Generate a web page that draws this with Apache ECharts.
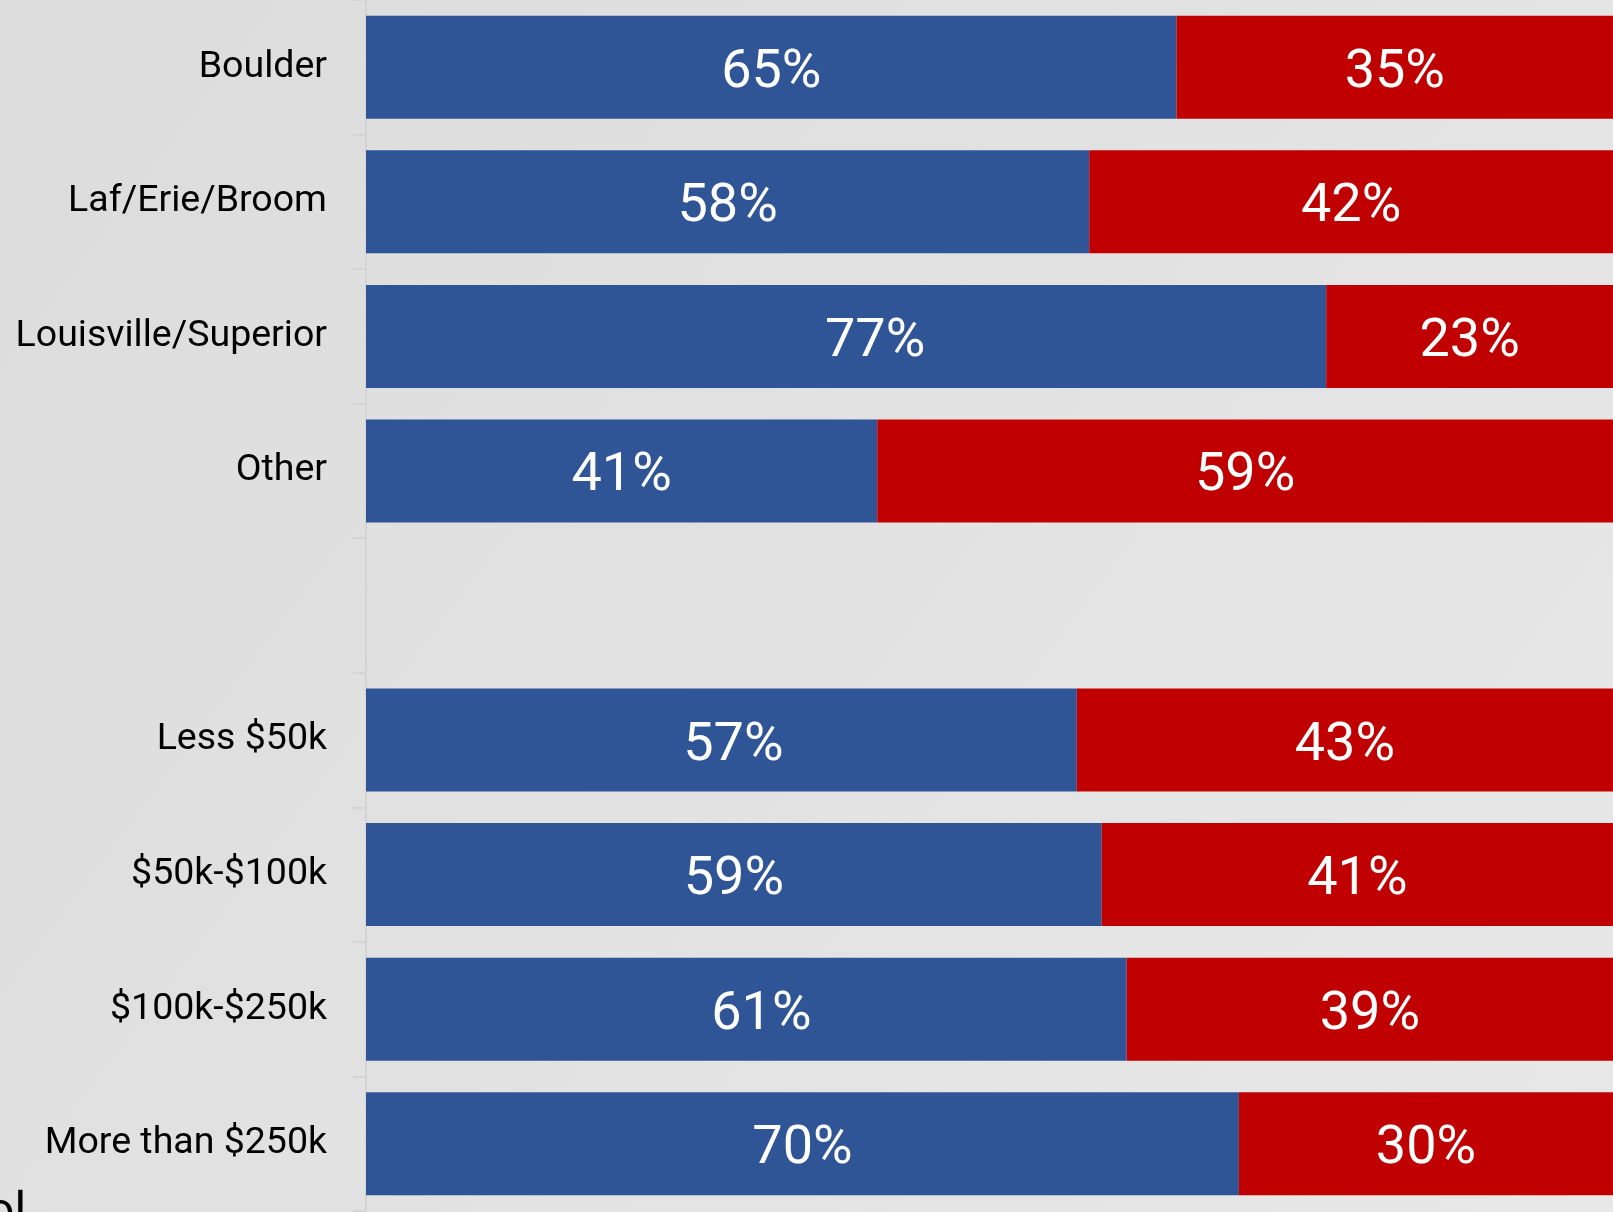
<!DOCTYPE html>
<html>
<head>
<meta charset="utf-8">
<script src="https://cdn.jsdelivr.net/npm/echarts@6/dist/echarts.min.js"></script>
<style>
	html, body { margin: 0; padding: 0; background: #e3e3e3; }
	#chart { width: 1613px; height: 1212px; }
</style>
</head>
<body>
<div id="chart"></div>
<script>
// categories top to bottom; the empty one is the gap between the two groups
const categories = ["Boulder", "Laf/Erie/Broom", "Louisville/Superior", "Other", "",
	"Less $50k", "$50k-$100k", "$100k-$250k", "More than $250k"];
const blueValues = [65, 58, 77, 41, null, 57, 59, 61, 70];
const redValues = [35, 42, 23, 59, null, 43, 41, 39, 30];

const BLUE = "#2f5597";
const RED = "#c00000";

// the original nudges a few blue labels to the right of the bar centre
const blueLabelNudge = [0, 0, 29, 0, 0, 12, 0, 15, 0];

const chart = echarts.init(document.getElementById("chart"), null, { renderer: "canvas" });

const barLabel = (nudge) => ({
	show: true,
	position: "inside",
	color: "#ffffff",
	fontFamily: "Roboto",
	fontSize: 54,
	offset: [nudge, 6],
	formatter: p => p.value == null ? "" : p.value + "%",
});

const withLabels = (values, nudges) => values.map((v, i) => ({
	value: v,
	label: barLabel(nudges ? nudges[i] : 0),
}));

chart.setOption({
	backgroundColor: new echarts.graphic.LinearGradient(0, 0, 1, 1, [
		{ offset: 0, color: "#dcdcdc" },
		{ offset: 1, color: "#e8e8e8" },
	]),
	animation: false,
	grid: { left: 366, right: 0, top: -2, bottom: 1, containLabel: false },
	xAxis: {
		type: "value",
		min: 0,
		max: 100,
		show: false,
	},
	yAxis: {
		type: "category",
		inverse: true,
		data: categories,
		axisLine: { show: true, lineStyle: { color: "#d4d4d4", width: 2 } },
		axisTick: { show: true, length: 13, lineStyle: { color: "#d4d4d4", width: 2 } },
		axisLabel: {
			color: "#000000",
			fontFamily: "Roboto",
			fontSize: 37.5,
			margin: 39,
			padding: [10, 0, 0, 0],
		},
		splitLine: { show: false },
	},
	series: [
		{
			name: "Blue",
			type: "bar",
			stack: "total",
			barWidth: 103,
			itemStyle: { color: BLUE },
			label: barLabel(0),
			data: withLabels(blueValues, blueLabelNudge),
		},
		{
			name: "Red",
			type: "bar",
			stack: "total",
			barWidth: 103,
			itemStyle: { color: RED },
			label: barLabel(0),
			data: withLabels(redValues),
		},
	],
	graphic: [
		{
			// cropped text fragment at the bottom-left edge
			type: "text",
			left: -13,
			top: 1190,
			style: { text: "ol", fontFamily: "Roboto", fontSize: 48, fill: "#000000" },
		},
	],
});
</script>
</body>
</html>
